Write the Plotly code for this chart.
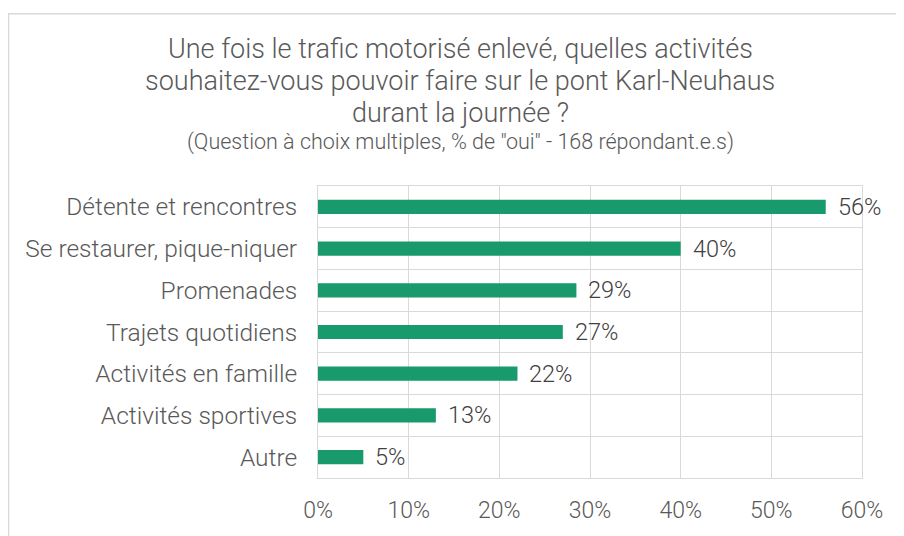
import plotly.graph_objects as go

categories = ["Détente et rencontres", "Se restaurer, pique-niquer", "Promenades",
              "Trajets quotidiens", "Activités en famille", "Activités sportives", "Autre"]
values = [0.56, 0.40, 0.285, 0.27, 0.22, 0.13, 0.05]
labels = ["56%", "40%", "29%", "27%", "22%", "13%", "5%"]
x_ticks = [0, 0.1, 0.2, 0.3, 0.4, 0.5, 0.6]
x_ticklabels = ["0%", "10%", "20%", "30%", "40%", "50%", "60%"]
title_lines = ["Une fois le trafic motorisé enlevé, quelles activités",
               "souhaitez-vous pouvoir faire sur le pont Karl-Neuhaus",
               "durant la journée ?"]
subtitle = '(Question à choix multiples, % de "oui" - 168 répondant.e.s)'

GREY = "#595959"
GRID = "#d9d9d9"
FONT = "Roboto"
WEIGHT = 300

W, H = 896, 528
L, R, T, B = 310, 42, 178, 56
PW, PH = W - L - R, H - T - B


def px(xfig):
    return (xfig - L) / PW


def py(yfig):
    return (H - B - yfig) / PH


fig = go.Figure(go.Bar(
    x=values, y=categories, orientation="h",
    marker=dict(color="#189a6d", line=dict(width=0)),
    width=0.34, hoverinfo="skip",
))

annotations = []
for c, v, t in zip(categories, values, labels):
    annotations.append(dict(x=v, y=c, xref="x", yref="y", text=t, showarrow=False,
                            xanchor="left", yanchor="middle", xshift=10,
                            font=dict(family=FONT, size=23.5, color="#404040", weight=WEIGHT)))

title_y = [40, 72, 104]
for line, yy in zip(title_lines, title_y):
    annotations.append(dict(x=px(452), y=py(yy), xref="paper", yref="paper",
                            text=line, showarrow=False, xanchor="center", yanchor="middle",
                            font=dict(family=FONT, size=27, color=GREY, weight=WEIGHT)))
annotations.append(dict(x=px(452), y=py(134), xref="paper", yref="paper",
                        text=subtitle, showarrow=False, xanchor="center", yanchor="middle",
                        font=dict(family=FONT, size=21.5, color=GREY, weight=WEIGHT)))

fig.update_layout(
    width=W, height=H,
    margin=dict(l=L, r=R, t=T, b=B),
    paper_bgcolor="white", plot_bgcolor="white",
    showlegend=False,
    annotations=annotations,
    font=dict(family=FONT, color=GREY, weight=WEIGHT),
    shapes=[dict(type="rect", xref="paper", yref="paper",
                 x0=px(0.5), x1=px(W + 20),
                 y0=py(H + 20), y1=py(4.5),
                 line=dict(color=GRID, width=1.5), fillcolor="rgba(0,0,0,0)", layer="below")],
)
fig.update_xaxes(range=[0, 0.6], tickvals=x_ticks, ticktext=x_ticklabels,
                 showgrid=True, gridcolor=GRID, gridwidth=1, zeroline=False,
                 showline=True, linecolor=GRID, mirror=True,
                 tickfont=dict(family=FONT, size=23, color=GREY, weight=WEIGHT),
                 ticks="outside", ticklen=0, ticklabelstandoff=11)
fig.update_yaxes(type="category", autorange="reversed", tickson="boundaries",
                 showgrid=True, gridcolor=GRID, gridwidth=1,
                 showline=True, linecolor=GRID, mirror=True,
                 tickfont=dict(family=FONT, size=24.5, color=GREY, weight=WEIGHT),
                 ticks="outside", ticklen=0, ticklabelstandoff=15)

fig.write_html("out.html")
